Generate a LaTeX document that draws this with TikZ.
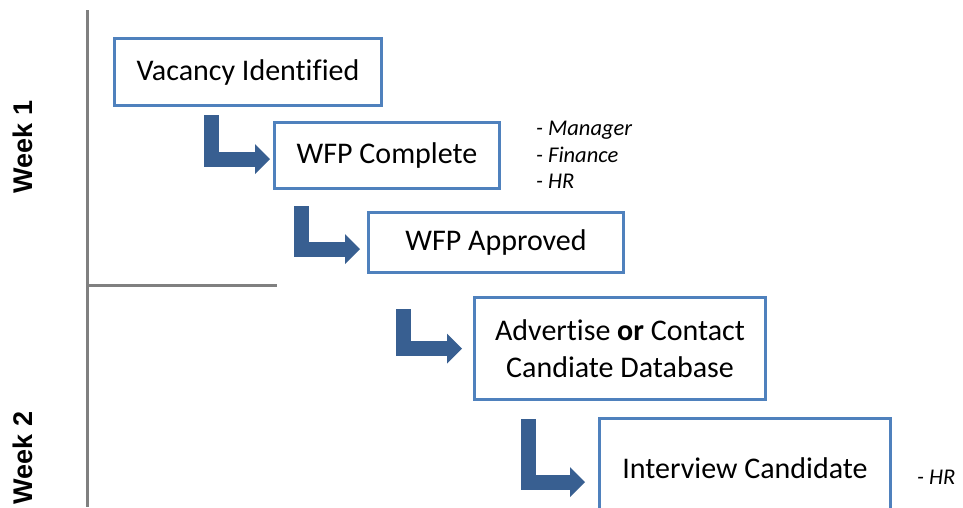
\documentclass[tikz,border=0pt]{standalone}
\usepackage{fontspec}
\setmainfont{Carlito}[Ligatures=CommonOff]
\newfontfamily\weekfont{Liberation Sans}
\usetikzlibrary{arrows.meta}

\definecolor{boxblue}{HTML}{4F81BD}
\definecolor{arrowblue}{HTML}{385F91}
\definecolor{rulegray}{HTML}{808080}

\tikzset{
  stepbox/.style={draw=boxblue, line width=3pt, fill=white, inner sep=0pt,
    align=center, font=\fontsize{30}{37}\selectfont},
  elbow/.style={draw=arrowblue, line width=15pt, line join=miter,
    -{Triangle[width=30pt,length=15pt,line width=0pt]}},
  weeklabel/.style={rotate=90, inner sep=0pt,
    font=\weekfont\bfseries\fontsize{27}{32}\selectfont},
  people/.style={anchor=west, inner sep=0pt, align=left,
    font=\itshape\fontsize{22.5}{26.5}\selectfont},
  timeline/.style={draw=rulegray, line width=3pt}
}

\begin{document}
\begin{tikzpicture}[x=1pt,y=-1pt]
            \useasboundingbox (0,0) rectangle (963,507);
            \clip (0,0) rectangle (963,507);

            %Week rules
            \draw[timeline] (87,10) -- (87,507);
            \draw[timeline] (87,285) -- (277,285);
            \node[weeklabel] at (23,147) (week1) {Week 1};
            \node[weeklabel] at (23,458) (week2) {Week 2};

            %Steps
            \node[stepbox, minimum width=267, minimum height=67] at (248,72)    (vacancy)   {Vacancy Identified};
            \node[stepbox, minimum width=225, minimum height=66] at (387,155.5) (wfpdone)   {WFP Complete};
            \node[stepbox, minimum width=255, minimum height=60] at (496,242.5) (wfpok)     {WFP Approved};
            \node[stepbox, minimum width=291, minimum height=102] at (620,348.5) (advert)   {Advertise \textbf{or} Contact\\Candiate Database};
            \node[stepbox, minimum width=291, minimum height=100] at (745,468)  (interview) {Interview Candidate};

            %Who signs off
            \node[people] at (536,155) (signoff) {- Manager\\- Finance\\- HR};
            \node[people] at (917,477) (panel)   {- HR};

            %Arrows
            \coordinate (s1) at (211,115);
            \coordinate (s2) at (301,206);
            \coordinate (s3) at (403.5,309);
            \coordinate (s4) at (528,419);
            \draw[elbow] (s1) |- ([xshift=-3pt,yshift=-3.5pt]wfpdone.west);
            \draw[elbow] (s2) |- ([xshift=-7pt,yshift=-6.5pt]wfpok.west);
            \draw[elbow] (s3) |- ([xshift=-11pt]advert.west);
            \draw[elbow] (s4) |- ([xshift=-13pt,yshift=-14pt]interview.west);
\end{tikzpicture}
\end{document}
